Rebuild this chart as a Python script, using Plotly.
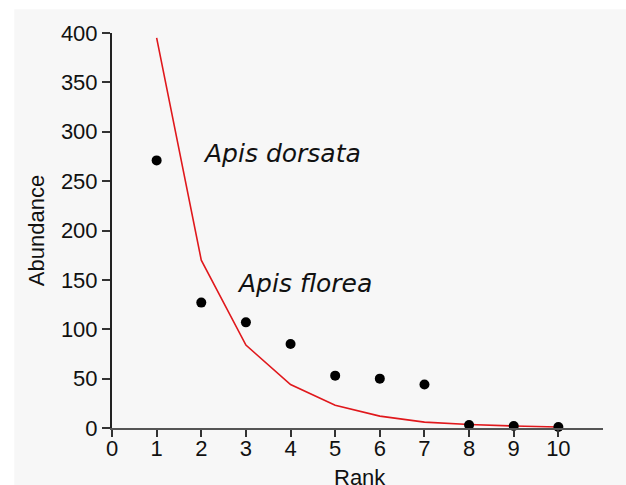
import plotly.graph_objects as go

rank = [1, 2, 3, 4, 5, 6, 7, 8, 9, 10]
observed = [271, 127, 107, 85, 53, 50, 44, 3, 2, 1]
fitted = [395, 170, 84, 44, 23, 12, 6, 3.5, 2, 1]
x_ticks = [0, 1, 2, 3, 4, 5, 6, 7, 8, 9, 10]
y_ticks = [0, 50, 100, 150, 200, 250, 300, 350, 400]

fig = go.Figure()
fig.add_trace(go.Scatter(x=rank, y=fitted, mode="lines",
                         line=dict(color="#e0181c", width=1.6), showlegend=False))
fig.add_trace(go.Scatter(x=rank, y=observed, mode="markers",
                         marker=dict(color="black", size=10), showlegend=False,
                         cliponaxis=False))

fig.add_shape(type="rect", xref="paper", yref="paper",
              x0=-0.199, x1=1.05, y0=-0.2, y1=1.06,
              fillcolor="#f7f7f7", line=dict(width=0), layer="below")

fig.add_annotation(x=2.0, y=278, text="<i>Apis dorsata</i>", showarrow=False,
                   xanchor="left", yanchor="middle",
                   font=dict(family="DejaVu Sans", size=25, color="#111"))
fig.add_annotation(x=2.76, y=146, text="<i>Apis florea</i>", showarrow=False,
                   xanchor="left", yanchor="middle",
                   font=dict(family="DejaVu Sans", size=25, color="#111"))

tickfont = dict(family="Liberation Sans, Arial", size=22, color="#111")
titlefont = dict(family="Liberation Sans, Arial", size=22, color="#111")

fig.add_annotation(xref="paper", yref="paper", x=0.505, y=-0.126, text="Rank",
                   showarrow=False, xanchor="center", yanchor="middle",
                   font=titlefont)

fig.update_xaxes(range=[0, 11.0], tickvals=x_ticks, ticks="outside", ticklen=7,
                 tickcolor="#333", tickwidth=1.5, showline=True, linecolor="#555",
                 linewidth=2, showgrid=False, zeroline=False, tickfont=tickfont,
                 ticklabelstandoff=-7, automargin=False)
fig.update_yaxes(range=[0, 400], tickvals=y_ticks, ticks="outside", ticklen=8,
                 tickcolor="#333", tickwidth=1.5, showline=True, linecolor="#222",
                 linewidth=2, showgrid=False, zeroline=False, tickfont=tickfont,
                 automargin=False,
                 title=dict(text="Abundance", font=titlefont, standoff=10))

fig.update_layout(width=626, height=485, paper_bgcolor="white", plot_bgcolor="#f7f7f7",
                  margin=dict(l=112, r=23, t=33, b=57))
fig.write_html("out.html")
